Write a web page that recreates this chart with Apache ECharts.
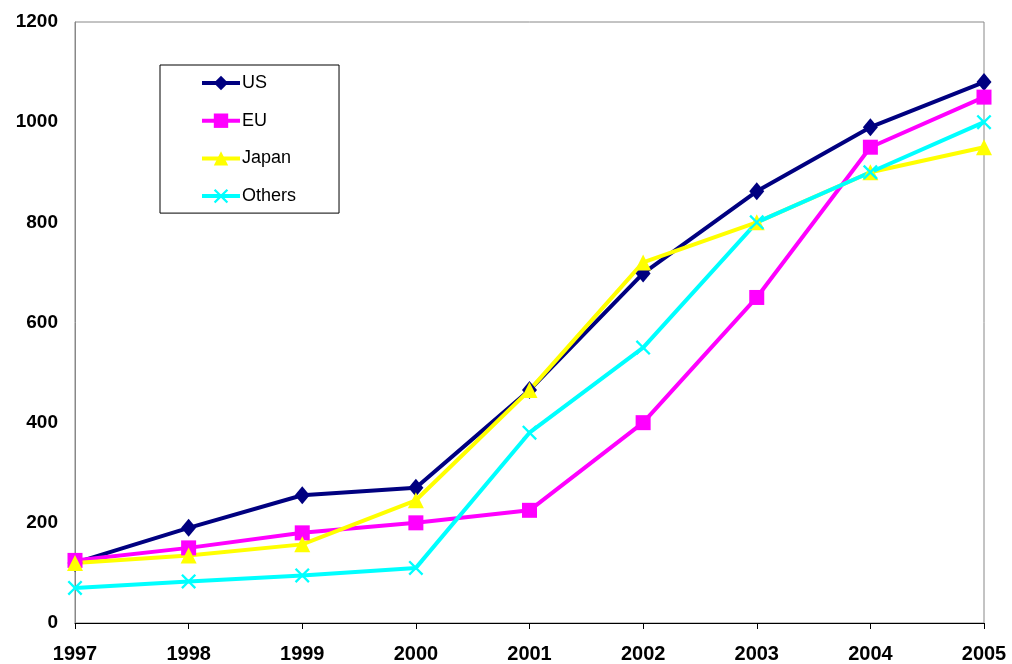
<!DOCTYPE html>
<html>
<head>
<meta charset="utf-8">
<script src="https://cdn.jsdelivr.net/npm/echarts@6/dist/echarts.min.js"></script>
<style>
  html, body { margin: 0; padding: 0; background: #fff; }
  #chart { width: 1012px; height: 664px; }
</style>
</head>
<body>
<div id="chart"></div>
<script>
// Years on the category axis
const years = ['1997', '1998', '1999', '2000', '2001', '2002', '2003', '2004', '2005'];

// Values per region
const usValues     = [120, 190, 255, 270, 465, 698, 862, 990, 1080];
const euValues     = [125, 150, 180, 200, 225, 400, 650, 950, 1050];
const japanValues  = [120, 135, 157, 245, 465, 720, 800, 900, 950];
const othersValues = [70, 83, 95, 110, 380, 550, 800, 900, 1000];

// Value axis range
const yMin = 0;
const yMax = 1200;
const yStep = 200;

// Filled "x" marker shape
const crossPath = 'path://M0,1.1L1.1,0L5,3.9L8.9,0L10,1.1L6.1,5L10,8.9L8.9,10L5,6.1L1.1,10L0,8.9L3.9,5Z';

const FONT = 'Liberation Sans, Arial, sans-serif';

const chart = echarts.init(document.getElementById('chart'), null, { renderer: 'canvas' });

function lineSeries(name, data, color, symbol, size) {
  return {
    name: name,
    type: 'line',
    data: data,
    symbol: symbol,
    symbolSize: size,
    showAllSymbol: true,
    lineStyle: { color: color, width: 4 },
    itemStyle: { color: color },
    emphasis: { disabled: true },
    animation: false
  };
}

chart.setOption({
  backgroundColor: '#fff',
  animation: false,
  grid: {
    left: 75, right: 28, top: 22, bottom: 41,
    show: true, borderColor: '#888', borderWidth: 1, backgroundColor: 'transparent'
  },
  legend: {
    orient: 'vertical',
    left: 160, top: 65,
    padding: [9, 43, 8, 40],
    itemWidth: 38, itemHeight: 18, itemGap: 19.7,
    borderColor: '#000', borderWidth: 1,
    lineStyle: { width: 4 },
    textStyle: { fontFamily: FONT, fontSize: 18, lineHeight: 18, color: '#000', padding: [0, 0, 0, -3] },
    data: ['US', 'EU', 'Japan', 'Others']
  },
  xAxis: {
    type: 'category',
    data: years,
    boundaryGap: false,
    axisLine: { lineStyle: { color: '#000', width: 1 } },
    axisTick: { alignWithLabel: true, length: 6, lineStyle: { color: '#000' } },
    axisLabel: {
      margin: 21,
      fontFamily: FONT, fontSize: 20, fontWeight: 'bold', color: '#000'
    },
    splitLine: { show: false }
  },
  yAxis: {
    type: 'value',
    min: yMin, max: yMax, interval: yStep,
    axisLine: { show: true, lineStyle: { color: '#888', width: 1 } },
    axisTick: { show: false },
    axisLabel: {
      margin: 17,
      formatter: function (v) { return String(v); },
      fontFamily: FONT, fontSize: 19, fontWeight: 'bold', color: '#000'
    },
    splitLine: { show: false }
  },
  series: [
    lineSeries('US', usValues, '#000080', 'diamond', [15, 18]),
    lineSeries('EU', euValues, '#FF00FF', 'rect', 15),
    lineSeries('Japan', japanValues, '#FFFF00', 'triangle', 16),
    lineSeries('Others', othersValues, '#00FFFF', crossPath, 15)
  ]
});
</script>
</body>
</html>
